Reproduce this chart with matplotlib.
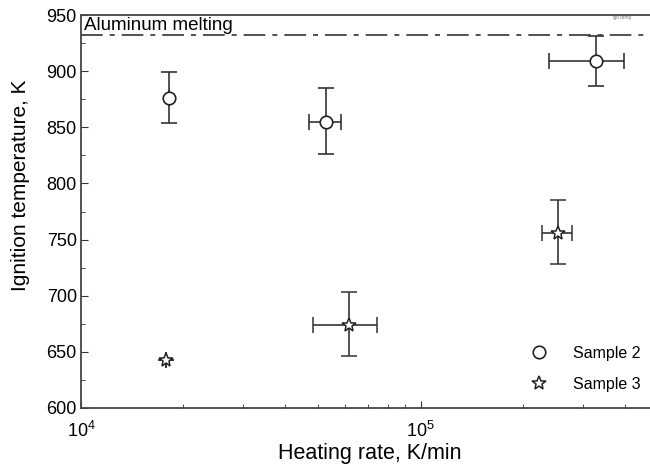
import matplotlib
matplotlib.use("Agg")
import numpy as np
from matplotlib import pyplot as plt
from matplotlib.ticker import MultipleLocator, LogLocator, NullFormatter

plt.rcParams['font.family'] = ['Liberation Sans', 'DejaVu Sans']
plt.rcParams['mathtext.fontset'] = 'custom'
plt.rcParams['mathtext.rm'] = 'Liberation Sans'

# Sample 2 (circles)
s2_rate = [1.81e4, 5.25e4, 3.28e5]
s2_temp = [876, 855, 909]
s2_rate_lo = [1.81e4, 4.68e4, 2.39e5]
s2_rate_hi = [1.81e4, 5.81e4, 3.97e5]
s2_temp_lo = [854, 826, 887]
s2_temp_hi = [899, 885, 931]

# Sample 3 (stars)
s3_rate = [1.78e4, 6.14e4, 2.54e5]
s3_temp = [643, 674, 756]
s3_rate_lo = [1.78e4, 4.83e4, 2.28e5]
s3_rate_hi = [1.78e4, 7.46e4, 2.79e5]
s3_temp_lo = [643, 646, 728]
s3_temp_hi = [643, 703, 785]

al_melting = 932

fig = plt.figure(figsize=(6.5, 4.68), dpi=100)
# axes runs past the right edge of the figure (cropped original)
ax = fig.add_axes([81 / 650, 60 / 468, 577 / 650, 393 / 468])

ecol = '#333333'


def errs(v, lo, hi):
    v = np.array(v)
    return [v - np.array(lo), np.array(hi) - v]


eb2 = ax.errorbar(s2_rate, s2_temp,
                  xerr=errs(s2_rate, s2_rate_lo, s2_rate_hi),
                  yerr=errs(s2_temp, s2_temp_lo, s2_temp_hi),
                  fmt='o', ms=9, mfc='white', mec='#222222', mew=1.2,
                  ecolor=ecol, elinewidth=1.2, capsize=6, capthick=1.2,
                  zorder=3)
eb3 = ax.errorbar(s3_rate, s3_temp,
                  xerr=errs(s3_rate, s3_rate_lo, s3_rate_hi),
                  yerr=errs(s3_temp, s3_temp_lo, s3_temp_hi),
                  fmt='*', ms=10, mfc='white', mec='#222222', mew=1.1,
                  ecolor=ecol, elinewidth=1.2, capsize=6, capthick=1.2,
                  zorder=3)

ax.axhline(al_melting, color='#333333', lw=1.2, dashes=(13, 4.2, 3, 4.2), zorder=2)
ax.text(1.02e4, 948, 'Aluminum melting', fontsize=13.5, va='top', ha='left')
fig.text(622 / 650, 1 - 17 / 468, 'Ign.temp', fontsize=3.5, color='#777777',
         ha='center', va='center')

ax.set_xscale('log')
ax.set_xlim(1e4, 5e5)
ax.set_ylim(600, 950)
ax.yaxis.set_major_locator(MultipleLocator(50))
ax.yaxis.set_minor_locator(MultipleLocator(25))
ax.xaxis.set_major_locator(LogLocator(base=10, numticks=10))
ax.xaxis.set_minor_locator(LogLocator(base=10, subs=np.arange(2, 10), numticks=10))
ax.xaxis.set_minor_formatter(NullFormatter())

ax.tick_params(which='both', direction='in', top=False, right=False,
               labelsize=13, color='#333333')
ax.tick_params(which='major', length=5)
ax.tick_params(axis='y', which='major', pad=3)
ax.tick_params(axis='x', which='major', pad=9.5)
ax.tick_params(which='minor', length=3)

for side in ['left', 'bottom', 'top']:
    ax.spines[side].set_color('#444444')
    ax.spines[side].set_linewidth(1.3)
ax.spines['right'].set_visible(False)

ax.set_xlabel('Heating rate, K/min', fontsize=15.5, labelpad=1)
ax.set_ylabel('Ignition temperature, K', fontsize=15)
ax.yaxis.set_label_coords(-0.089, 0.567)

ax.legend([eb2[0], eb3[0]], ['Sample 2', 'Sample 3'], frameon=False,
          loc='lower right', bbox_to_anchor=(655 / 650, 62 / 468),
          bbox_transform=fig.transFigure, fontsize=11.5, handletextpad=1.4,
          labelspacing=1.0, handlelength=1.5)

fig.savefig('out.png', dpi=100)
